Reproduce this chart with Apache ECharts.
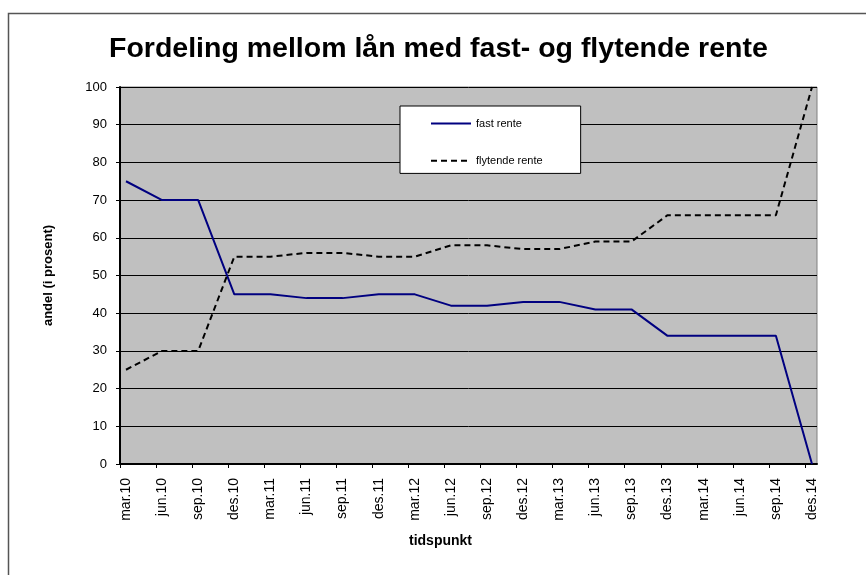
<!DOCTYPE html>
<html>
<head>
<meta charset="utf-8">
<script src="https://cdn.jsdelivr.net/npm/echarts@6/dist/echarts.min.js"></script>
<style>
html,body{margin:0;padding:0;background:#fff}
#chart{width:866px;height:575px}
</style>
</head>
<body>
<div id="chart"></div>
<script>
// tidspunkt (kvartal)
var tidspunkt=['mar.10','jun.10','sep.10','des.10','mar.11','jun.11','sep.11','des.11','mar.12','jun.12',
    'sep.12','des.12','mar.13','jun.13','sep.13','des.13','mar.14','jun.14','sep.14','des.14'];
// andel i prosent
var fastRente=[75,70,70,45,45,44,44,45,45,42,42,43,43,41,41,34,34,34,34,0];
var flytendeRente=[25,30,30,55,55,56,56,55,55,58,58,57,57,59,59,66,66,66,66,100];
// akse 0-100
var yMin=0, yMax=100, yStep=10;
// hakene ligger ved starten av hver maaned (3 mnd mellom)
var tickMonths=tidspunkt.map(function(d,i){return i*3;});

var font='Arial, "Liberation Sans", sans-serif';

function loadChart(){
    var mychart=echarts.init(document.getElementById('chart'));
    var option={
        animation:false,
        title:{
            text:'Fordeling mellom lån med fast- og flytende rente',
            left:104,
            top:30,
            textStyle:{fontFamily:font,fontSize:28.5,fontWeight:'bold',color:'#000'}
        },
        legend:{
            orient:'vertical',
            left:400,
            top:106,
            data:['fast rente','flytende rente'],
            backgroundColor:'#fff',
            borderColor:'#000',
            borderWidth:1,
            padding:[12,38,7,30],
            itemWidth:40,
            itemHeight:14,
            itemGap:26,
            itemStyle:{color:'transparent',borderWidth:0,opacity:0},
            textStyle:{fontFamily:font,fontSize:11,color:'#000'}
        },
        graphic:[
            {type:'rect',shape:{x:8.5,y:13.5,width:1000,height:1000},style:{fill:null,stroke:'#555',lineWidth:1.5},z:-10},
            {type:'text',left:409,top:534,style:{text:'tidspunkt',font:'bold 14px '+font,fill:'#000'}}
        ],
        grid:[
            {left:120,top:87,width:697,height:377,show:true,backgroundColor:'#c0c0c0',borderColor:'#808080',borderWidth:1},
            {left:126,top:87,width:686,height:377}
        ],
        xAxis:[
            {
                type:'value',gridIndex:0,min:0,max:58,interval:3,
                axisLine:{show:true,lineStyle:{color:'#000',width:2}},
                axisTick:{show:true,length:4,customValues:tickMonths,lineStyle:{color:'#000'}},
                axisLabel:{show:false},
                splitLine:{show:false}
            },
            {
                type:'category',gridIndex:1,boundaryGap:false,data:tidspunkt,
                axisLine:{show:false},
                axisTick:{show:false},
                axisLabel:{rotate:90,margin:14,interval:0,fontFamily:font,fontSize:14,color:'#000'}
            }
        ],
        yAxis:[
            {
                type:'value',gridIndex:0,min:yMin,max:yMax,interval:yStep,
                name:'andel (i prosent)',
                nameLocation:'middle',
                nameGap:65,
                nameTextStyle:{fontFamily:font,fontSize:13,fontWeight:'bold',color:'#000'},
                axisLine:{show:true,lineStyle:{color:'#000',width:2}},
                axisTick:{show:true,length:4,lineStyle:{color:'#000'}},
                axisLabel:{margin:13,fontFamily:font,fontSize:13,color:'#000'},
                splitLine:{show:true,lineStyle:{color:'#000',width:1}}
            },
            {
                type:'value',gridIndex:1,min:yMin,max:yMax,show:false,splitLine:{show:false}
            }
        ],
        series:[
            {
                name:'fast rente',type:'line',xAxisIndex:1,yAxisIndex:1,
                data:fastRente,symbol:'none',
                lineStyle:{color:'#000080',width:2},
                itemStyle:{color:'#000080'}
            },
            {
                name:'flytende rente',type:'line',xAxisIndex:1,yAxisIndex:1,
                data:flytendeRente,symbol:'none',
                lineStyle:{color:'#000',width:2,type:[6,4]},
                itemStyle:{color:'#000'}
            }
        ]
    };
    mychart.setOption(option);
}
loadChart();
</script>
</body>
</html>
